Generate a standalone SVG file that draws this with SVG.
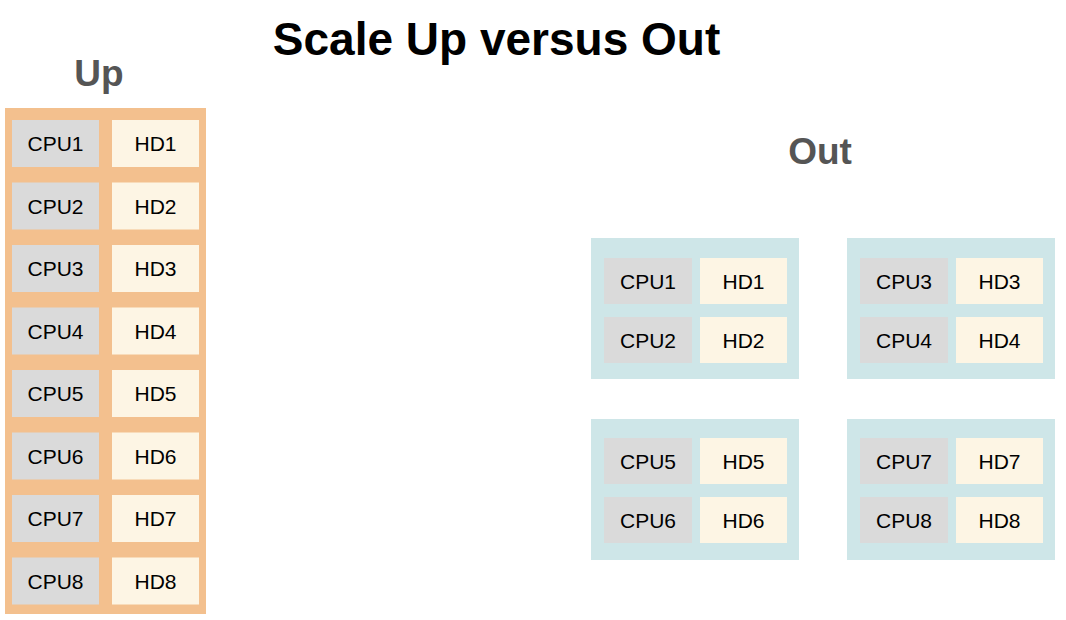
<svg xmlns="http://www.w3.org/2000/svg" width="1066" height="620" viewBox="0 0 1066 620">
<style>
.bg{fill:#ffffff}
.up{fill:#f3c08e}
.out{fill:#cee6e8}
.cpu{fill:#dadada}
.hd{fill:#fdf5e4}
.t{font-family:"Liberation Sans",Arial,sans-serif;font-size:21px;fill:#000;text-anchor:middle}
.h{font-family:"Liberation Sans",Arial,sans-serif;font-weight:bold;text-anchor:middle}
</style>
<rect class="bg" x="0" y="0" width="1066" height="620"/>
<text class="h" x="496.5" y="55" font-size="46" fill="#000">Scale Up versus Out</text>
<text class="h" x="99" y="86" font-size="37" fill="#555555">Up</text>
<text class="h" x="820" y="164" font-size="37" fill="#555555">Out</text>
<g id="up-machine">
<rect class="up" x="5" y="108" width="201" height="506"/>
<g id="up-row1"><rect class="cpu" x="12" y="120" width="87" height="47"/><text class="t" x="55.5" y="151">CPU1</text><rect class="hd" x="112" y="120" width="87" height="47"/><text class="t" x="155.5" y="151">HD1</text></g>
<g id="up-row2"><rect class="cpu" x="12" y="182.5" width="87" height="47"/><text class="t" x="55.5" y="213.5">CPU2</text><rect class="hd" x="112" y="182.5" width="87" height="47"/><text class="t" x="155.5" y="213.5">HD2</text></g>
<g id="up-row3"><rect class="cpu" x="12" y="245" width="87" height="47"/><text class="t" x="55.5" y="276">CPU3</text><rect class="hd" x="112" y="245" width="87" height="47"/><text class="t" x="155.5" y="276">HD3</text></g>
<g id="up-row4"><rect class="cpu" x="12" y="307.5" width="87" height="47"/><text class="t" x="55.5" y="338.5">CPU4</text><rect class="hd" x="112" y="307.5" width="87" height="47"/><text class="t" x="155.5" y="338.5">HD4</text></g>
<g id="up-row5"><rect class="cpu" x="12" y="370" width="87" height="47"/><text class="t" x="55.5" y="401">CPU5</text><rect class="hd" x="112" y="370" width="87" height="47"/><text class="t" x="155.5" y="401">HD5</text></g>
<g id="up-row6"><rect class="cpu" x="12" y="432.5" width="87" height="47"/><text class="t" x="55.5" y="463.5">CPU6</text><rect class="hd" x="112" y="432.5" width="87" height="47"/><text class="t" x="155.5" y="463.5">HD6</text></g>
<g id="up-row7"><rect class="cpu" x="12" y="495" width="87" height="47"/><text class="t" x="55.5" y="526">CPU7</text><rect class="hd" x="112" y="495" width="87" height="47"/><text class="t" x="155.5" y="526">HD7</text></g>
<g id="up-row8"><rect class="cpu" x="12" y="557.5" width="87" height="47"/><text class="t" x="55.5" y="588.5">CPU8</text><rect class="hd" x="112" y="557.5" width="87" height="47"/><text class="t" x="155.5" y="588.5">HD8</text></g>
</g>
<g id="out-node1">
<rect class="out" x="591" y="238" width="208" height="141"/>
<rect class="cpu" x="604" y="258" width="88" height="46"/><text class="t" x="648" y="288.5">CPU1</text>
<rect class="hd" x="700" y="258" width="87" height="46"/><text class="t" x="743.5" y="288.5">HD1</text>
<rect class="cpu" x="604" y="317" width="88" height="46"/><text class="t" x="648" y="347.5">CPU2</text>
<rect class="hd" x="700" y="317" width="87" height="46"/><text class="t" x="743.5" y="347.5">HD2</text>
</g>
<g id="out-node2">
<rect class="out" x="847" y="238" width="208" height="141"/>
<rect class="cpu" x="860" y="258" width="88" height="46"/><text class="t" x="904" y="288.5">CPU3</text>
<rect class="hd" x="956" y="258" width="87" height="46"/><text class="t" x="999.5" y="288.5">HD3</text>
<rect class="cpu" x="860" y="317" width="88" height="46"/><text class="t" x="904" y="347.5">CPU4</text>
<rect class="hd" x="956" y="317" width="87" height="46"/><text class="t" x="999.5" y="347.5">HD4</text>
</g>
<g id="out-node3">
<rect class="out" x="591" y="419" width="208" height="141"/>
<rect class="cpu" x="604" y="438" width="88" height="46"/><text class="t" x="648" y="468.5">CPU5</text>
<rect class="hd" x="700" y="438" width="87" height="46"/><text class="t" x="743.5" y="468.5">HD5</text>
<rect class="cpu" x="604" y="497" width="88" height="46"/><text class="t" x="648" y="527.5">CPU6</text>
<rect class="hd" x="700" y="497" width="87" height="46"/><text class="t" x="743.5" y="527.5">HD6</text>
</g>
<g id="out-node4">
<rect class="out" x="847" y="419" width="208" height="141"/>
<rect class="cpu" x="860" y="438" width="88" height="46"/><text class="t" x="904" y="468.5">CPU7</text>
<rect class="hd" x="956" y="438" width="87" height="46"/><text class="t" x="999.5" y="468.5">HD7</text>
<rect class="cpu" x="860" y="497" width="88" height="46"/><text class="t" x="904" y="527.5">CPU8</text>
<rect class="hd" x="956" y="497" width="87" height="46"/><text class="t" x="999.5" y="527.5">HD8</text>
</g>
<g id="connectors"/>
</svg>
